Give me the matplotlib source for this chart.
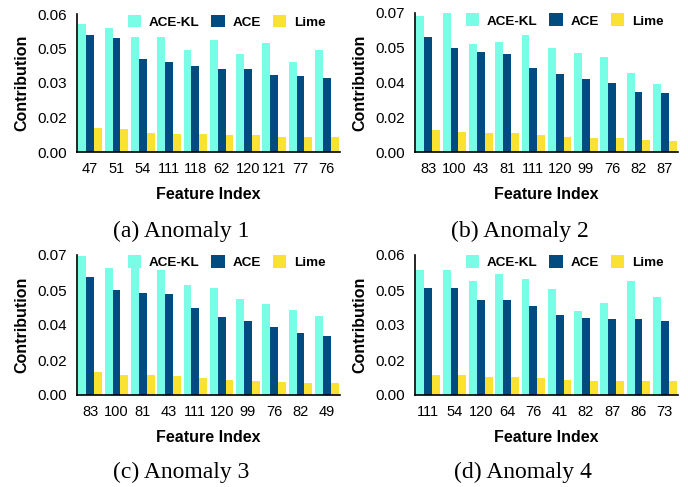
import matplotlib
matplotlib.use("Agg")
import matplotlib.pyplot as plt
import numpy as np

series_names = ["ACE-KL", "ACE", "Lime"]
colors = ["#78FDE6", "#004C80", "#F9E231"]

feat_a = ["47", "51", "54", "111", "118", "62", "120", "121", "77", "76"]
acekl_a = [0.0558, 0.0537, 0.0498, 0.0498, 0.0442, 0.0485, 0.0424, 0.0476, 0.0390, 0.0442]
ace_a = [0.0508, 0.0494, 0.0403, 0.0390, 0.0373, 0.0360, 0.0360, 0.0334, 0.0330, 0.0321]
lime_a = [0.0105, 0.0101, 0.0083, 0.0079, 0.0079, 0.0075, 0.0075, 0.0066, 0.0066, 0.0066]

feat_b = ["83", "100", "43", "81", "111", "120", "99", "76", "82", "87"]
acekl_b = [0.0687, 0.0700, 0.0546, 0.0556, 0.0591, 0.0525, 0.0500, 0.0480, 0.0400, 0.0344]
ace_b = [0.0581, 0.0525, 0.0505, 0.0495, 0.0425, 0.0394, 0.0369, 0.0349, 0.0304, 0.0299]
lime_b = [0.0112, 0.0102, 0.0097, 0.0097, 0.0087, 0.0077, 0.0072, 0.0072, 0.0062, 0.0057]

feat_c = ["83", "100", "81", "43", "111", "120", "99", "76", "82", "49"]
acekl_c = [0.0695, 0.0635, 0.0680, 0.0624, 0.0549, 0.0534, 0.0478, 0.0453, 0.0423, 0.0393]
ace_c = [0.0589, 0.0524, 0.0509, 0.0504, 0.0433, 0.0388, 0.0368, 0.0342, 0.0312, 0.0297]
lime_c = [0.0116, 0.0101, 0.0101, 0.0096, 0.0086, 0.0076, 0.0071, 0.0065, 0.0060, 0.0060]

feat_d = ["111", "54", "120", "64", "76", "41", "82", "87", "86", "73"]
acekl_d = [0.0535, 0.0535, 0.0488, 0.0518, 0.0496, 0.0453, 0.0358, 0.0393, 0.0488, 0.0419]
ace_d = [0.0458, 0.0458, 0.0406, 0.0406, 0.0380, 0.0341, 0.0328, 0.0324, 0.0324, 0.0319]
lime_d = [0.0086, 0.0086, 0.0078, 0.0078, 0.0073, 0.0065, 0.0060, 0.0060, 0.0060, 0.0060]

ymax_a, ymax_b, ymax_c, ymax_d = 0.06, 0.07, 0.07, 0.06
yticklabels_6 = ["0.00", "0.02", "0.03", "0.05", "0.06"]
yticklabels_7 = ["0.00", "0.02", "0.04", "0.05", "0.07"]

captions = ["(a) Anomaly 1", "(b) Anomaly 2", "(c) Anomaly 3", "(d) Anomaly 4"]

sans = ["Liberation Sans", "DejaVu Sans"]
serif = ["Liberation Serif", "DejaVu Serif"]

W, H = 688, 487
fig = plt.figure(figsize=(W / 100, H / 100), dpi=100)

panels = [
    (feat_a, [acekl_a, ace_a, lime_a], ymax_a, yticklabels_6, (77, 14, 263, 138)),
    (feat_b, [acekl_b, ace_b, lime_b], ymax_b, yticklabels_7, (415, 13, 263, 139)),
    (feat_c, [acekl_c, ace_c, lime_c], ymax_c, yticklabels_7, (77, 255, 263, 140)),
    (feat_d, [acekl_d, ace_d, lime_d], ymax_d, yticklabels_6, (415, 255, 263, 140)),
]

bw = 0.3
for feats, vals, ymax, ylabels, (l, t, w, h) in panels:
    ax = fig.add_axes([l / W, 1 - (t + h) / H, w / W, h / H])
    x = np.arange(len(feats))
    for i, (v, c, name) in enumerate(zip(vals, colors, series_names)):
        ax.bar(x + (i - 1) * bw, v, width=bw, color=c, label=name, linewidth=0)
    ax.set_xlim(-0.5, len(feats) - 0.5)
    ax.set_ylim(0, ymax)
    ax.set_yticks(np.linspace(0, ymax, 5))
    ax.set_yticklabels(ylabels, fontfamily=sans, fontsize=11)
    ax.set_xticks(x)
    ax.set_xticklabels(feats, fontfamily=sans, fontsize=10.5)
    ax.tick_params(axis="both", length=0, pad=7)
    for s in ["top", "right"]:
        ax.spines[s].set_visible(False)
    ax.spines["left"].set_linewidth(1.2)
    ax.spines["bottom"].set_linewidth(1.2)
    ax.set_xlabel("Feature Index", fontfamily=sans, fontsize=11.5, fontweight="bold", labelpad=8)
    ax.set_ylabel("Contribution", fontfamily=sans, fontsize=11.5, fontweight="bold", labelpad=6)
    ax.legend(loc="upper right", bbox_to_anchor=(0.97, 1.045), ncol=3, frameon=False,
              handlelength=1.0, handleheight=1.1, handletextpad=0.55, columnspacing=0.9,
              borderpad=0, prop={"family": sans, "weight": "bold", "size": 9.7})

cap_pos = [(181, 231), (520, 231), (181, 472), (523, 472)]
for cap, (cx, cy) in zip(captions, cap_pos):
    fig.text(cx / W, 1 - cy / H, cap, ha="center", va="center", fontfamily=serif, fontsize=17)

fig.savefig("out.png", dpi=100)
